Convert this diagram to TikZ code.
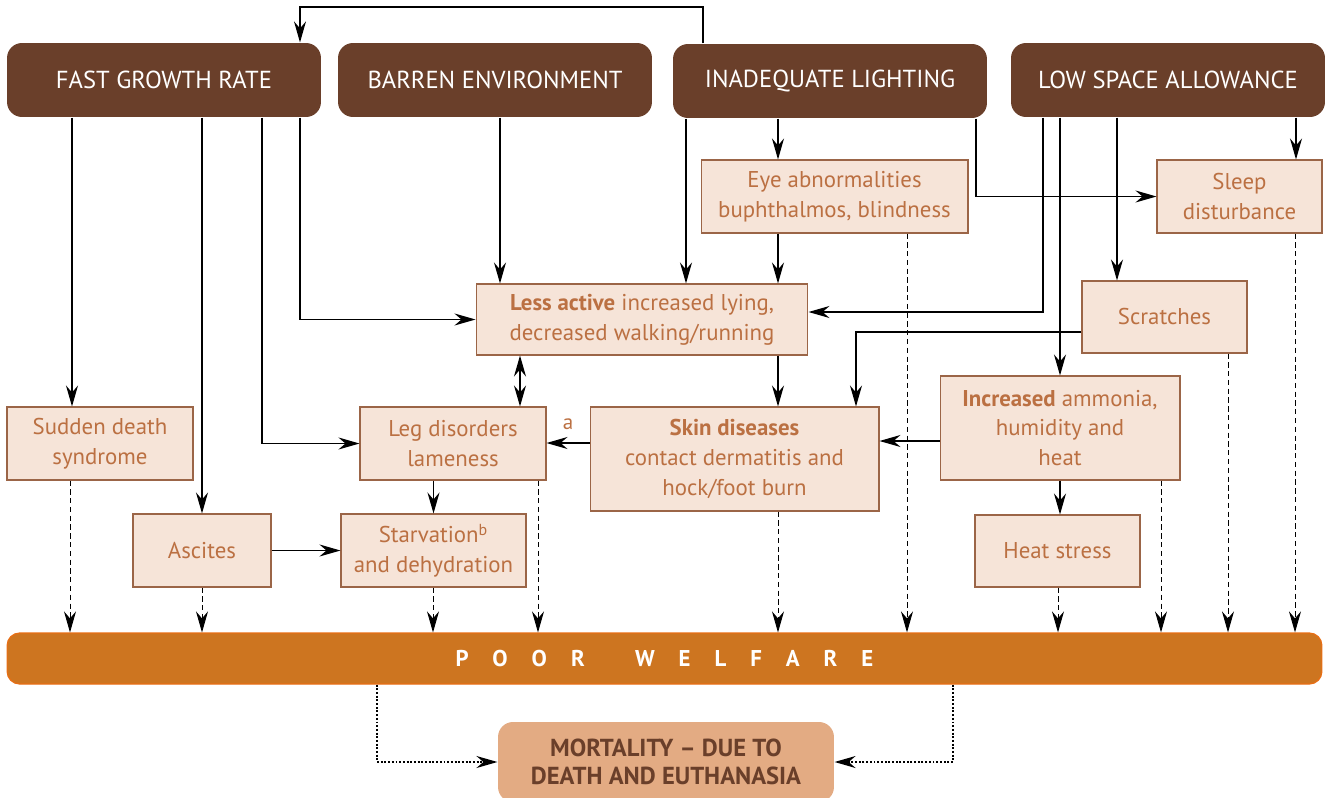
\documentclass[tikz,border=0pt]{standalone}
\usepackage{fontspec}
\setmainfont{PT Sans}
\usepackage{xcolor}
\usepackage{tikz}
\usetikzlibrary{calc, arrows.meta}

\definecolor{causebrown}{RGB}{106,63,42}
\definecolor{boxfill}{RGB}{246,228,216}
\definecolor{boxline}{RGB}{155,101,71}
\definecolor{boxtext}{RGB}{187,112,66}
\definecolor{welfareorange}{RGB}{205,117,32}
\definecolor{welfareline}{RGB}{232,110,20}
\definecolor{mortfill}{RGB}{227,171,131}

\begin{document}
\begin{tikzpicture}[x=0.02cm, y=-0.02cm, line width=0.7pt,
    >={Stealth[length=4.2mm, width=2.4mm, inset=1.4mm]},
    causebox/.style={fill=causebrown, rounded corners=0.3cm, text=white,
        minimum width=6.28cm, minimum height=1.48cm, inner sep=0pt,
        font=\fontsize{14}{16}\selectfont},
    effbox/.style={draw=boxline, fill=boxfill, text=boxtext, align=center,
        inner sep=0pt, line width=0.6pt, font=\fontsize{13}{17}\selectfont},
    link/.style={->},
    tofinal/.style={->, densely dashed, line width=0.5pt},
    tomort/.style={->, densely dotted, line width=1.1pt}]

    \useasboundingbox (0,0) rectangle (1330,798);
    \clip (0,0) rectangle (1330,798);

    % 1. Nguyen nhan
    \node[causebox] (fgr) at (164,80) {FAST GROWTH RATE};
    \node[causebox] (barren) at (495,80) {BARREN ENVIRONMENT};
    \node[causebox] (light) at (830,81) {INADEQUATE LIGHTING};
    \node[causebox] (low) at (1168,80) {LOW SPACE ALLOWANCE};

    % 2. Hau qua
    \node[effbox, minimum width=5.34cm, minimum height=1.46cm] (eye) at (834.5,196.5)
        {Eye abnormalities\\buphthalmos, blindness};
    \node[effbox, minimum width=3.3cm, minimum height=1.46cm] (sleep) at (1239.5,196.5)
        {Sleep\\disturbance};
    \node[effbox, minimum width=6.64cm, minimum height=1.42cm] (less) at (642,319.5)
        {\textbf{Less active} increased lying,\\decreased walking/running};
    \node[effbox, minimum width=3.3cm, minimum height=1.44cm] (scratch) at (1164.5,317)
        {Scratches};
    \node[effbox, minimum width=4.8cm, minimum height=2.08cm] (incr) at (1060,428)
        {\textbf{Increased} ammonia,\\humidity and\\heat};
    \node[effbox, minimum width=5.78cm, minimum height=2.08cm] (skin) at (734.5,459)
        {\textbf{Skin diseases}\\contact dermatitis and\\hock/foot burn};
    \node[effbox, minimum width=3.72cm, minimum height=1.46cm] (leg) at (453,443.5)
        {Leg disorders\\lameness};
    \node[effbox, minimum width=3.72cm, minimum height=1.46cm] (sudden) at (100,443.5)
        {Sudden death\\syndrome};
    \node[effbox, minimum width=2.76cm, minimum height=1.46cm] (ascites) at (202,550.5)
        {Ascites};
    \node[effbox, minimum width=3.7cm, minimum height=1.46cm] (starv) at (433.5,550.5)
        {Starvation\textsuperscript{b}\\and dehydration};
    \node[effbox, minimum width=3.3cm, minimum height=1.44cm] (heat) at (1057.5,551)
        {Heat stress};

    % 3. Ket qua
    \node[fill=welfareorange, draw=welfareline, rounded corners=0.25cm, text=white,
        minimum width=26.3cm, minimum height=1.02cm, inner sep=0pt,
        font=\fontsize{13}{15}\selectfont\bfseries\addfontfeature{LetterSpace=105}]
        (welfare) at (664.5,658.5) {POOR\hspace*{2.2em}WELFARE};
    \node[fill=mortfill, rounded corners=0.3cm, text=causebrown, align=center,
        minimum width=6.72cm, minimum height=1.6cm, inner sep=0pt,
        font=\fontsize{14}{15.5}\selectfont\bfseries] (mort) at (666,762)
        {MORTALITY -- DUE TO\\DEATH AND EUTHANASIA};

    % 4. Mui ten
    \coordinate (loop) at (300,7);
    \draw[link] (light.north -| 703,0) |- (loop) -- (fgr.north -| loop);
    \draw[link] (fgr.south -| 72,0) -- (sudden.north -| 72,0);
    \draw[link] (fgr.south -| ascites.north) -- (ascites.north);
    \draw[link] (fgr.south -| 262,0) |- (leg.west);
    \draw[link] (fgr.south -| 300,0) |- (less.west);
    \draw[link] (barren.south -| 500,0) -- (less.north -| 500,0);
    \draw[link] (light.south -| 686,0) -- (less.north -| 686,0);
    \draw[link] (light.south -| 778,0) -- (eye.north -| 778,0);
    \draw[link] (light.south -| 976,0) |- (sleep.west);
    \draw[link] (eye.south -| 778,0) -- (less.north -| 778,0);
    \draw[link] (low.south -| 1296,0) -- (sleep.north -| 1296,0);
    \draw[link] (low.south -| 1043,0) |- (less.east |- 0,312);
    \draw[link] (low.south -| incr.north) -- (incr.north);
    \draw[link] (low.south -| 1117,0) -- (scratch.north -| 1117,0);
    \draw[link] (scratch.west |- 0,332) -| (skin.north -| 856,0);
    \draw[link] (incr.west |- 0,441) -- (skin.east |- 0,441);
    \draw[link] (incr.south) -- (heat.north -| incr.south);
    \draw[link] (less.south -| 778,0) -- (skin.north -| 778,0);
    \draw[link] (skin.west |- 0,443) -- (leg.east |- 0,443)
        node[pos=0.5, above=4pt, text=boxtext, font=\fontsize{12}{14}\selectfont] (fa) {a};
    \draw[<->] (less.south -| 520,0) -- (leg.north -| 520,0);
    \draw[link] (leg.south -| starv.north) -- (starv.north);
    \draw[link] (ascites.east) -- (starv.west);

    % 5. Duong net dut xuong POOR WELFARE
    \foreach \n/\x in {sudden/70, ascites/202, starv/433, leg/538, skin/778,
                       eye/907, heat/1058, incr/1161, scratch/1228, sleep/1295} {
        \draw[tofinal] (\n.south -| \x,0) -- (welfare.north -| \x,0);
    }

    % 6. Tu vong
    \draw[tomort] (welfare.south -| 377,0) |- (mort.west);
    \draw[tomort] (welfare.south -| 953,0) |- (mort.east);
\end{tikzpicture}
\end{document}
